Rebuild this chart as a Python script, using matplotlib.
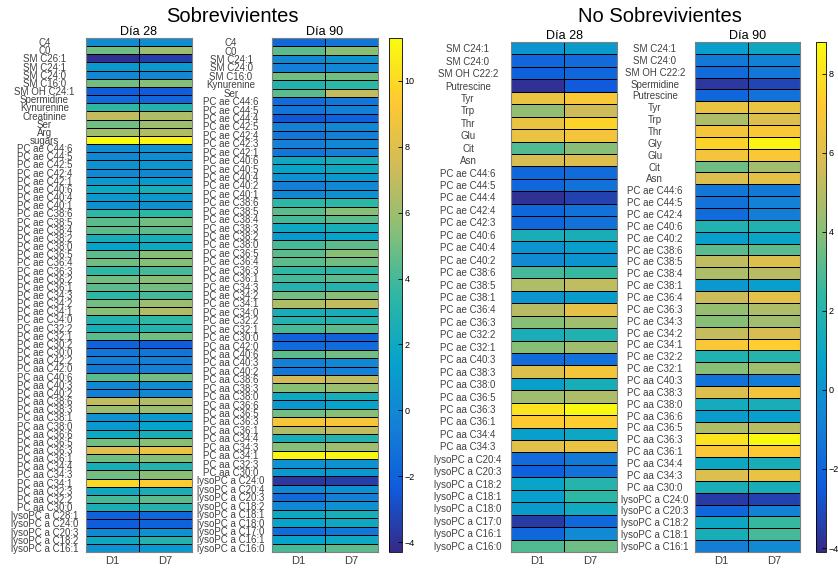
import numpy as np
import matplotlib.pyplot as plt
from matplotlib.colors import LinearSegmentedColormap

plt.rcParams['font.family'] = ['Liberation Sans', 'DejaVu Sans']

# ---- Sobrevivientes, Dia 28 ----
s28_labels = ['C4', 'C0', 'SM C26:1', 'SM C24:1', 'SM C24:0', 'SM C16:0', 'SM OH C24:1',
              'Spermidine', 'Kynurenine', 'Creatinine', 'Ser', 'Arg', 'sugars',
              'PC ae C44:6', 'PC ae C44:5', 'PC ae C42:5', 'PC ae C42:4', 'PC ae C42:1',
              'PC ae C40:6', 'PC ae C40:4', 'PC ae C40:1', 'PC ae C38:6', 'PC ae C38:5',
              'PC ae C38:4', 'PC ae C38:2', 'PC ae C38:0', 'PC ae C36:5', 'PC ae C36:4',
              'PC ae C36:3', 'PC ae C36:2', 'PC ae C36:1', 'PC ae C34:3', 'PC ae C34:2',
              'PC ae C34:1', 'PC ae C34:0', 'PC ae C32:2', 'PC ae C32:1', 'PC ae C30:2',
              'PC ae C30:0', 'PC aa C42:2', 'PC aa C42:0', 'PC aa C40:6', 'PC aa C40:3',
              'PC aa C40:2', 'PC aa C38:6', 'PC aa C38:3', 'PC aa C38:1', 'PC aa C38:0',
              'PC aa C36:6', 'PC aa C36:5', 'PC aa C36:3', 'PC aa C36:1', 'PC aa C34:4',
              'PC aa C34:3', 'PC aa C34:1', 'PC aa C32:3', 'PC aa C32:2', 'PC aa C30:0',
              'lysoPC a C28:1', 'lysoPC a C24:0', 'lysoPC a C20:3', 'lysoPC a C18:2',
              'lysoPC a C16:1']
s28_d1 = [0.3, 5.0, -4.0, 1.0, 0.0, 5.0, -2.3, -1.5, 3.5, 7.0, 5.0, 6.0, 11.3,
          0.3, 0.0, 0.5, 0.0, 1.0, 2.0, 1.0, 0.5, 3.5, 4.5, 4.5, 2.5, 1.5, 4.5, 5.0,
          3.5, 5.0, 4.5, 3.5, 5.0, 5.5, 3.0, 2.5, 4.5, -2.0, -1.0, -0.5, -0.8, 4.5,
          0.0, -0.5, 7.0, 6.0, 0.5, 1.0, 2.0, 5.0, 8.0, 5.0, 2.5, 5.0, 10.0, 2.0,
          4.0, 2.5, -2.0, -2.3, 0.0, 2.0, 0.5]
s28_d7 = [0.3, 6.0, -3.5, 1.0, 0.0, 5.5, -2.3, -1.8, 3.0, 6.5, 6.0, 6.5, 11.0,
          0.5, 0.3, 0.8, 0.0, 1.0, 2.5, 1.0, 0.5, 3.5, 5.0, 4.5, 2.5, 2.0, 5.5, 5.5,
          4.0, 5.5, 5.0, 4.0, 6.0, 6.5, 3.5, 3.0, 5.0, -2.3, -1.0, -0.5, -0.5, 5.0,
          0.3, 0.0, 6.5, 6.0, 1.0, 1.5, 2.5, 5.5, 8.5, 5.5, 3.0, 5.5, 9.5, 2.5,
          4.5, 3.0, -1.8, -2.0, 0.5, 3.0, 1.0]

# ---- Sobrevivientes, Dia 90 ----
s90_labels = ['C4', 'C0', 'SM C24:1', 'SM C24:0', 'SM C16:0', 'Kynurenine', 'Ser',
              'PC ae C44:6', 'PC ae C44:5', 'PC ae C44:4', 'PC ae C42:5', 'PC ae C42:4',
              'PC ae C42:3', 'PC ae C42:1', 'PC ae C40:6', 'PC ae C40:5', 'PC ae C40:4',
              'PC ae C40:2', 'PC ae C40:1', 'PC ae C38:6', 'PC ae C38:5', 'PC ae C38:4',
              'PC ae C38:3', 'PC ae C38:2', 'PC ae C38:0', 'PC ae C36:5', 'PC ae C36:4',
              'PC ae C36:3', 'PC ae C36:1', 'PC ae C34:3', 'PC ae C34:2', 'PC ae C34:1',
              'PC ae C34:0', 'PC ae C32:2', 'PC ae C32:1', 'PC ae C30:0', 'PC aa C42:0',
              'PC aa C40:6', 'PC aa C40:3', 'PC aa C40:2', 'PC aa C38:6', 'PC aa C38:3',
              'PC aa C38:0', 'PC aa C36:6', 'PC aa C36:5', 'PC aa C36:3', 'PC aa C36:1',
              'PC aa C34:4', 'PC aa C34:3', 'PC aa C34:1', 'PC aa C32:3', 'PC aa C30:0',
              'lysoPC a C24:0', 'lysoPC a C20:4', 'lysoPC a C20:3', 'lysoPC a C18:2',
              'lysoPC a C18:1', 'lysoPC a C18:0', 'lysoPC a C17:0', 'lysoPC a C16:1',
              'lysoPC a C16:0']
s90_d1 = [-1.8, 4.5, 0.0, -0.5, 5.0, 3.0, 4.5, -1.5, -1.0, -2.5, -0.5, -1.0, -0.5,
          -1.0, 2.0, 1.5, 0.5, -0.5, 0.0, 3.5, 4.5, 4.0, 2.0, 1.0, 4.0, 4.5, 4.5,
          3.5, 4.0, 3.0, 5.0, 6.5, 2.5, 3.0, 4.0, -2.0, -1.5, 4.5, -0.5, -1.0, 7.5,
          5.5, 2.0, 1.0, 5.0, 9.0, 6.5, 2.5, 5.5, 11.0, 0.5, 1.0, -3.8, 0.0, -1.5,
          0.0, 2.0, 1.5, -1.5, 1.5, 4.0]
s90_d7 = [-1.0, 5.5, 0.5, 0.0, 5.0, 3.5, 7.0, -1.0, -0.5, -2.0, 0.0, -0.5, 0.0,
          -0.5, 2.5, 2.0, 1.0, 0.0, 0.5, 3.5, 5.5, 4.5, 2.5, 1.5, 4.5, 5.5, 5.0,
          3.5, 4.5, 3.0, 5.5, 7.0, 2.5, 3.0, 4.5, -2.0, -1.5, 5.0, 0.0, -0.5, 7.0,
          6.0, 2.5, 1.5, 5.5, 9.0, 7.0, 3.0, 6.0, 11.0, 0.5, 1.0, -3.5, 0.5, -0.5,
          0.5, 2.5, 2.0, -1.0, 2.0, 4.5]

# ---- No Sobrevivientes, Dia 28 ----
n28_labels = ['SM C24:1', 'SM C24:0', 'SM OH C22:2', 'Putrescine', 'Tyr', 'Trp', 'Thr',
              'Glu', 'Cit', 'Asn', 'PC ae C44:6', 'PC ae C44:5', 'PC ae C44:4',
              'PC ae C42:4', 'PC ae C42:3', 'PC ae C40:6', 'PC ae C40:4', 'PC ae C40:2',
              'PC ae C38:6', 'PC ae C38:5', 'PC ae C38:1', 'PC ae C36:4', 'PC ae C36:3',
              'PC ae C32:2', 'PC ae C32:1', 'PC aa C40:3', 'PC aa C38:3', 'PC aa C38:0',
              'PC aa C36:5', 'PC aa C36:3', 'PC aa C36:1', 'PC aa C34:4', 'PC aa C34:3',
              'lysoPC a C20:4', 'lysoPC a C20:3', 'lysoPC a C18:2', 'lysoPC a C18:1',
              'lysoPC a C18:0', 'lysoPC a C17:0', 'lysoPC a C16:1', 'lysoPC a C16:0']
n28_d1 = [0.0, -2.0, -2.3, -3.8, 6.5, 4.2, 6.5, 6.5, 3.0, 5.8, -2.0, -2.0, -3.8,
          -2.0, -2.0, 1.5, 0.0, -0.5, 2.8, 4.8, 0.0, 5.0, 4.0, 1.5, 4.0, -1.8, 6.0,
          0.5, 4.5, 8.0, 7.2, 0.5, 6.2, -1.8, -2.3, 0.8, 0.5, 0.3, -3.5, -2.0, 3.0]
n28_d7 = [0.3, -1.8, -2.0, -2.5, 7.0, 5.5, 7.5, 6.8, 4.0, 6.0, -1.8, -1.5, -3.3,
          -1.5, -1.5, 1.5, 0.5, 0.0, 2.5, 5.2, 0.3, 6.3, 4.5, 1.8, 4.5, -1.5, 6.8,
          1.5, 4.8, 8.7, 7.3, 1.0, 6.5, -1.2, -1.5, 2.0, 2.3, 1.2, -2.0, -0.5, 3.5]

# ---- No Sobrevivientes, Dia 90 ----
n90_labels = ['SM C24:1', 'SM C24:0', 'SM OH C22:2', 'Spermidine', 'Putrescine', 'Tyr',
              'Trp', 'Thr', 'Gly', 'Glu', 'Cit', 'Asn', 'PC ae C44:6', 'PC ae C44:5',
              'PC ae C42:4', 'PC ae C40:6', 'PC ae C40:2', 'PC ae C38:6', 'PC ae C38:5',
              'PC ae C38:4', 'PC ae C38:1', 'PC ae C36:4', 'PC ae C36:3', 'PC ae C34:3',
              'PC ae C34:2', 'PC ae C34:1', 'PC ae C32:2', 'PC ae C32:1', 'PC aa C40:3',
              'PC aa C38:3', 'PC aa C38:0', 'PC aa C36:6', 'PC aa C36:5', 'PC aa C36:3',
              'PC aa C36:1', 'PC aa C34:4', 'PC aa C34:3', 'PC aa C30:0',
              'lysoPC a C24:0', 'lysoPC a C20:3', 'lysoPC a C18:2', 'lysoPC a C18:1',
              'lysoPC a C16:1']
n90_d1 = [0.5, -1.2, -1.8, -3.6, -2.0, 6.5, 4.8, 6.8, 7.5, 6.8, 3.5, 6.0, -1.3,
          -1.5, -1.8, 1.8, 0.5, 3.2, 5.2, 4.8, 0.2, 5.5, 4.3, 4.0, 5.3, 7.0, 1.8,
          4.0, -1.5, 6.0, 1.3, 0.3, 4.8, 8.0, 7.0, 1.0, 6.0, 1.5, -3.5, -2.0, 1.0,
          1.5, -1.0]
n90_d7 = [1.0, -0.8, -1.3, -3.2, -1.5, 6.5, 6.0, 7.0, 8.5, 7.0, 4.5, 6.3, -1.2,
          -0.8, -1.0, 1.8, 0.8, 3.2, 6.0, 5.0, 0.5, 6.3, 4.8, 4.5, 5.8, 7.3, 2.0,
          4.5, -1.0, 6.8, 1.5, 0.5, 5.0, 8.7, 7.2, 1.5, 6.5, 1.5, -3.3, -0.8, 2.5,
          2.8, -0.5]

cols = ['D1', 'D7']

parula = LinearSegmentedColormap.from_list(
    'parula', ['#352a87', '#0f5cdd', '#1481d6', '#06a4ca', '#2eb7a4',
               '#87bf77', '#d1bb59', '#fec832', '#f9fb0e'])

fig = plt.figure(figsize=(8.38, 5.72), dpi=100)
W, H = 838.0, 572.0


def heat(left, top, right, bottom, labels, d1, d7, title, vmin, vmax, pad, fs, fam):
    ax = fig.add_axes([left / W, 1 - bottom / H, (right - left) / W, (bottom - top) / H])
    data = np.column_stack([d1, d7])
    m = ax.pcolormesh(data, cmap=parula, vmin=vmin, vmax=vmax,
                      edgecolor='black', linewidth=0.6)
    ax.set_ylim(len(labels), 0)
    ax.set_xlim(0, 2)
    ax.set_yticks(np.arange(len(labels)) + 0.5)
    ax.set_yticklabels(labels, fontsize=fs, color='#404040', family=fam)
    for t in ax.get_yticklabels():
        t.set_ha('center')
    ax.set_xticks([0.5, 1.5])
    ax.set_xticklabels(cols, fontsize=8, color='#404040')
    ax.tick_params(axis='y', length=0, pad=pad)
    ax.tick_params(axis='x', length=0, pad=3)
    for s in ax.spines.values():
        s.set_color('#808080')
        s.set_linewidth(0.8)
    ax.set_title(title, fontsize=9, pad=1.5)
    return m


narrow = ['Liberation Sans Narrow', 'Liberation Sans', 'DejaVu Sans']
normal = ['Liberation Sans', 'DejaVu Sans']
m1 = heat(86, 38, 192, 552, s28_labels, s28_d1, s28_d7, 'Día 28', -4.3, 11.3, 30, 7, narrow)
heat(272, 38, 378, 552, s90_labels, s90_d1, s90_d7, 'Día 90', -4.3, 11.3, 29.5, 7, narrow)
m2 = heat(511, 42, 617, 552, n28_labels, n28_d1, n28_d7, 'Día 28', -4.1, 8.8, 31, 7, normal)
heat(695, 42, 800, 552, n90_labels, n90_d1, n90_d7, 'Día 90', -4.1, 8.8, 29, 7, normal)

cax1 = fig.add_axes([389 / W, 1 - 552 / H, 13 / W, 514 / H])
cb1 = fig.colorbar(m1, cax=cax1, ticks=np.arange(-4, 11, 2))
cax2 = fig.add_axes([816 / W, 1 - 552 / H, 10 / W, 510 / H])
cb2 = fig.colorbar(m2, cax=cax2, ticks=np.arange(-4, 9, 2))
for cb in (cb1, cb2):
    cb.outline.set_linewidth(0.6)
    cb.ax.tick_params(labelsize=6.5, length=3, width=0.6, pad=2, direction='in')

fig.text(232 / W, 1 - 17 / H, 'Sobrevivientes', fontsize=14.5, ha='center', va='center')
fig.text(660 / W, 1 - 17 / H, 'No Sobrevivientes', fontsize=14.5, ha='center', va='center')

fig.savefig('out.png', dpi=100)
